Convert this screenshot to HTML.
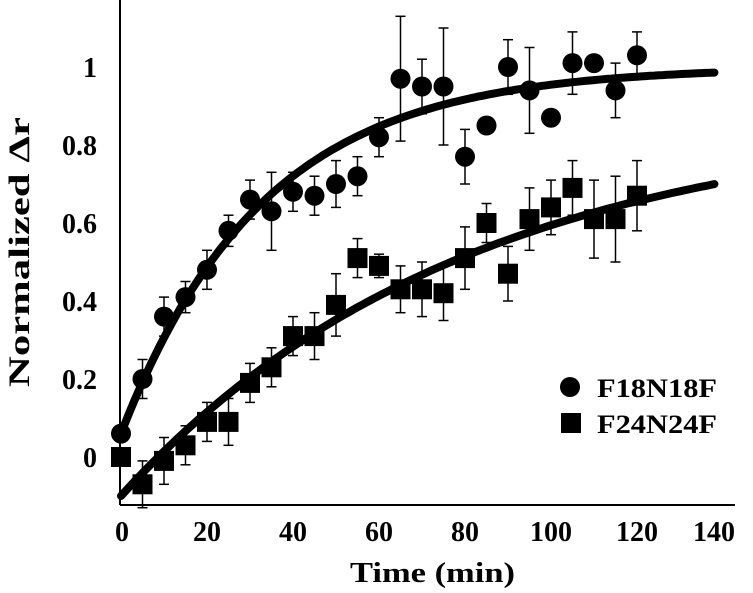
<!DOCTYPE html>
<html><head><meta charset="utf-8"><style>
html,body{margin:0;padding:0;background:#fff;}
svg{display:block;font-family:"Liberation Serif",serif;font-weight:bold;}
</style></head><body>
<svg id="chart" width="753" height="593" viewBox="0 0 753 593" xmlns="http://www.w3.org/2000/svg">
<g id="axes"></g>
<g id="plot"></g>
<text x="350" y="582" font-size="29" textLength="165" lengthAdjust="spacingAndGlyphs">Time (min)</text>
<text transform="translate(29,387) rotate(-90)" font-size="30" textLength="270" lengthAdjust="spacingAndGlyphs">Normalized Δr</text>
<g>
<circle cx="570" cy="387" r="10" fill="#000"/>
<text x="597" y="397" font-size="26" textLength="120" lengthAdjust="spacingAndGlyphs">F18N18F</text>
<rect x="561" y="413" width="20" height="20" fill="#000"/>
<text x="597" y="433" font-size="26" textLength="120" lengthAdjust="spacingAndGlyphs">F24N24F</text>
</g>
</svg>
<script>
const times = [0,5,10,15,20,25,30,35,40,45,50,55,60,65,70,75,80,85,90,95,100,105,110,115,120];
const circleVals = [0.06,0.20,0.36,0.41,0.48,0.58,0.66,0.63,0.68,0.67,0.70,0.72,0.82,0.97,0.95,0.95,0.77,0.85,1.0,0.94,0.87,1.01,1.01,0.94,1.03];
const circleErr = [0,0.05,0.05,0.04,0.05,0.04,0.05,0.10,0.05,0.05,0.06,0.05,0.05,0.16,0.07,0.15,0.07,0.02,0.07,0.11,0.02,0.08,0.02,0.07,0.06];
const squareVals = [0.0,-0.07,-0.01,0.03,0.09,0.09,0.19,0.23,0.31,0.31,0.39,0.51,0.49,0.43,0.43,0.42,0.51,0.60,0.47,0.61,0.64,0.69,0.61,0.61,0.67];
const squareErr = [0,0.06,0.06,0.05,0.05,0.06,0.05,0.05,0.05,0.06,0.08,0.05,0.03,0.06,0.07,0.07,0.08,0.05,0.07,0.08,0.07,0.07,0.10,0.11,0.09];
const circleFit = [1.0,0.94,33];
const squareFit = [0.873,0.973,80];
const xTicks = [0,20,40,60,80,100,120,140];
const yTicks = [0,0.2,0.4,0.6,0.8,1];
const yTickLabels = ["0","0.2","0.4","0.6","0.8","1"];

const NS="http://www.w3.org/2000/svg";
function X(t){return 121+t*4.3;}
function Y(v){return 457-v*390;}
function mk(tag,attrs,parent){const e=document.createElementNS(NS,tag);for(const k in attrs)e.setAttribute(k,attrs[k]);parent.appendChild(e);return e;}
const axes=document.getElementById('axes'), plot=document.getElementById('plot');

let yl=mk('line',{x1:120,y1:0,x2:120,y2:505,stroke:'#000','stroke-width':2},axes);


let xl=mk('line',{x1:120,y1:505,x2:735,y2:505,stroke:'#000','stroke-width':2},axes);


xTicks.forEach(t=>{
  const cx=X(t)-(t===140?9:0)+(t===0?1:0);
  const tx=mk('text',{x:cx,y:541,'font-size':28,'text-anchor':'middle'},axes);tx.textContent=String(t);
  
  
});
yTicks.forEach((v,i)=>{
  const tx=mk('text',{x:97,y:Y(v)+10,'font-size':28,'text-anchor':'end'},axes);tx.textContent=yTickLabels[i];
  
  
});

function fitPath(p){let d='';for(let t=0;t<=138;t+=1){const v=p[0]-p[1]*Math.exp(-t/p[2]);d+=(t?'L':'M')+X(t).toFixed(1)+','+Y(v).toFixed(1);}return d;}

function errBars(vals,errs,name){
  vals.forEach((v,i)=>{ if(!errs[i])return;
    const g=mk('g',{stroke:'#000','stroke-width':1.5},plot);
    
    
    const x=X(times[i]),y1=Y(v+errs[i]),y2=Y(v-errs[i]);
    mk('line',{x1:x,y1:y1,x2:x,y2:y2},g);
    mk('line',{x1:x-5,y1:y1,x2:x+5,y2:y1},g);
    mk('line',{x1:x-5,y1:y2,x2:x+5,y2:y2},g);
  });
}
errBars(circleVals,circleErr,'f18n18f');
errBars(squareVals,squareErr,'f24n24f');

let f1=mk('path',{d:fitPath(circleFit),fill:'none',stroke:'#000','stroke-width':8,'stroke-linecap':'round'},plot);


let f2=mk('path',{d:fitPath(squareFit),fill:'none',stroke:'#000','stroke-width':8,'stroke-linecap':'round'},plot);



circleVals.forEach((v,i)=>{
  const c=mk('circle',{cx:X(times[i]),cy:Y(v),r:10,fill:'#000'},plot);
  
  
});
squareVals.forEach((v,i)=>{
  const r=mk('rect',{x:X(times[i])-10,y:Y(v)-10,width:20,height:20,fill:'#000'},plot);
  
  
});
</script>
</body></html>
